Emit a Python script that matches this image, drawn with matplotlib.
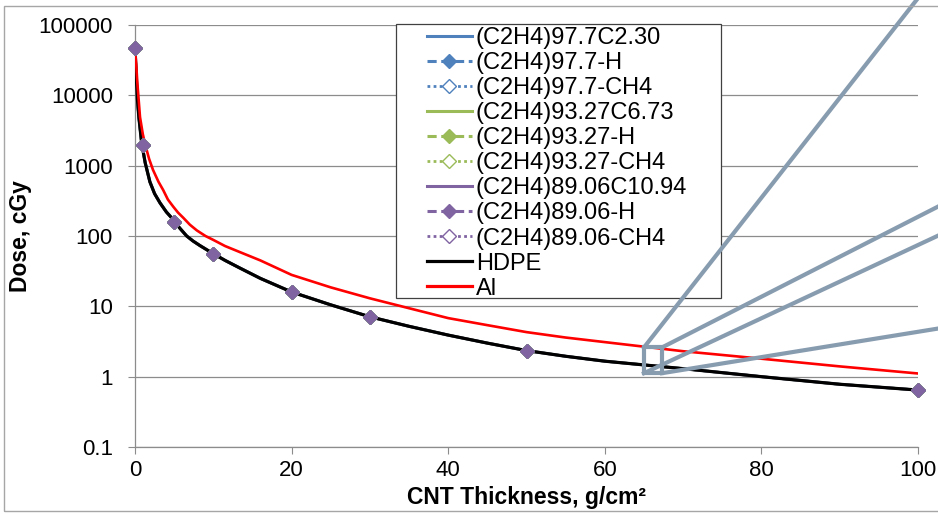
import matplotlib.pyplot as plt
from matplotlib.lines import Line2D
from matplotlib.patches import Rectangle
from matplotlib.ticker import NullLocator

plt.rcParams['font.family'] = ['Liberation Sans', 'DejaVu Sans']

# diamonds (calculated points)
pt_x = [0, 1, 5, 10, 20, 30, 50, 100]
pt_dose = [47000, 1980, 160, 56, 16, 7.05, 2.31, 0.645]

# smooth curves
hdpe_x = [0, 0.15, 0.3, 0.5, 0.85, 1.3, 1.9, 2.5, 3.2, 4, 4.9, 5.7, 6.6, 7.4, 8.3, 10, 11.5,
          13.4, 16, 20, 25, 30, 35, 40, 45, 50, 55, 60, 70, 80, 90, 100]
hdpe_dose = [47000, 20000, 9000, 4800, 2100, 1100, 590, 400, 295, 220, 170, 130, 100, 85, 73, 56, 45,
             35, 25, 16, 10.5, 7.1, 5.2, 3.9, 3.0, 2.35, 1.95, 1.66, 1.3, 1.0, 0.78, 0.645]
al_x = [0, 0.15, 0.3, 0.64, 1.0, 1.3, 1.8, 2.3, 3, 3.6, 4.2, 4.9, 5.5, 6.2, 7, 7.9, 9, 10, 11.5,
        13.4, 16, 20, 25, 30, 35, 40, 45, 50, 55, 60, 70, 80, 90, 100]
al_dose = [47000, 28000, 15000, 4900, 2800, 2000, 1250, 870, 590, 450, 330, 260, 215, 180, 145, 120, 100, 88, 72,
           59, 45, 28, 18.6, 13, 9.4, 6.8, 5.4, 4.3, 3.6, 3.1, 2.3, 1.8, 1.4, 1.11]

groups = ['97.7', '93.27', '89.06']
carbon = ['2.30', '6.73', '10.94']
colors = ['#4F81BD', '#9BBB59', '#8064A2']

ytick_vals = [0.1, 1, 10, 100, 1000, 10000, 100000]
ytick_labels = ['0.1', '1', '10', '100', '1000', '10000', '100000']
xtick_vals = [0, 20, 40, 60, 80, 100]

fig = plt.figure(figsize=(9.38, 5.14), dpi=100)
W, H = 938, 514
ax = fig.add_axes([135 / W, 1 - 447 / H, 783 / W, 422 / H])

grid_c = '#8C8C8C'
handles = []
for g, c, col in zip(groups, carbon, colors):
    # composite curve hidden under the HDPE line
    ax.plot(hdpe_x, hdpe_dose, color=col, lw=2, zorder=2)
    ax.plot(pt_x, pt_dose, ls='none', marker='D', ms=7, mfc='white', mec=col, zorder=3, clip_on=False)
    ax.plot(pt_x, pt_dose, ls='none', marker='D', ms=7.5, mfc=col, mec=col, zorder=5, clip_on=False)
    handles.append(Line2D([], [], color=col, lw=2.2, label=f'(C2H4){g}C{c}'))
    handles.append(Line2D([], [], color=col, lw=2.2, ls=(0, (3, 1.5)), marker='D', ms=7.5,
                          mfc=col, mec=col, label=f'(C2H4){g}-H'))
    handles.append(Line2D([], [], color=col, lw=2, ls=(0, (1, 1.2)), marker='D', ms=7.5,
                          mfc='white', mec=col, label=f'(C2H4){g}-CH4'))

ax.plot(hdpe_x, hdpe_dose, color='black', lw=2.3, zorder=4)
ax.plot(al_x, al_dose, color='#FF0000', lw=1.9, zorder=4)
handles.append(Line2D([], [], color='black', lw=2.3, label='HDPE'))
handles.append(Line2D([], [], color='#FF0000', lw=2.3, label='Al'))

ax.set_yscale('log')
ax.set_ylim(0.1, 100000)
ax.set_xlim(0, 100)
ax.set_yticks(ytick_vals)
ax.set_yticklabels(ytick_labels)
ax.yaxis.set_minor_locator(NullLocator())
ax.set_xticks(xtick_vals)
ax.grid(axis='y', color=grid_c, lw=0.9)
ax.set_axisbelow(True)
for s in ['top', 'right']:
    ax.spines[s].set_visible(False)
for s in ['left', 'bottom']:
    ax.spines[s].set_color(grid_c)
    ax.spines[s].set_linewidth(0.9)
ax.tick_params(axis='y', direction='out', length=5, color=grid_c, labelsize=16, pad=11)
ax.tick_params(axis='x', direction='out', length=5, color=grid_c, labelsize=16, pad=4)

ax.set_xlabel('CNT Thickness, g/cm²', fontsize=16.5, fontweight='bold', labelpad=4)
ax.set_ylabel('Dose, cGy', fontsize=16.5, fontweight='bold')
ax.yaxis.set_label_coords(-0.1315, 0.5)

# legend with its own frame
ax.add_patch(Rectangle((396 / W, 1 - 298 / H), 325 / W, 274 / H, transform=fig.transFigure,
                       fill=True, fc='white', ec='#404040', lw=0.9, zorder=7, clip_on=False))
leg = ax.legend(handles=handles, loc='upper left', bbox_to_anchor=(427 / W, 1 - 27 / H),
                bbox_transform=fig.transFigure, frameon=False, fontsize=17, handlelength=1.9,
                handletextpad=0.17, labelspacing=0.13, borderpad=0, borderaxespad=0, numpoints=1)
leg.set_zorder(8)

# zoom box with callout lines, drawn over the legend
zc = '#889CB0'
ax.add_patch(Rectangle((65, 1.12), 2.3, 2.6 - 1.12, fill=False, ec=zc, lw=3, zorder=9, clip_on=False))
callouts = [((65, 2.6), (104, 10 ** 5.95)),
            ((67.3, 2.6), (104, 10 ** 2.5)),
            ((65, 1.12), (104, 10 ** 2.08)),
            ((67.3, 1.12), (104, 10 ** 0.71))]
for (x0, y0), (x1, y1) in callouts:
    ax.plot([x0, x1], [y0, y1], color=zc, lw=3, zorder=9, clip_on=False)

# outer chart border
fig.patches.append(Rectangle((4 / W, 3 / H), 960 / W, 505 / H, transform=fig.transFigure,
                             fill=False, ec='#A6A6A6', lw=1))

fig.savefig('out.png', dpi=100)
